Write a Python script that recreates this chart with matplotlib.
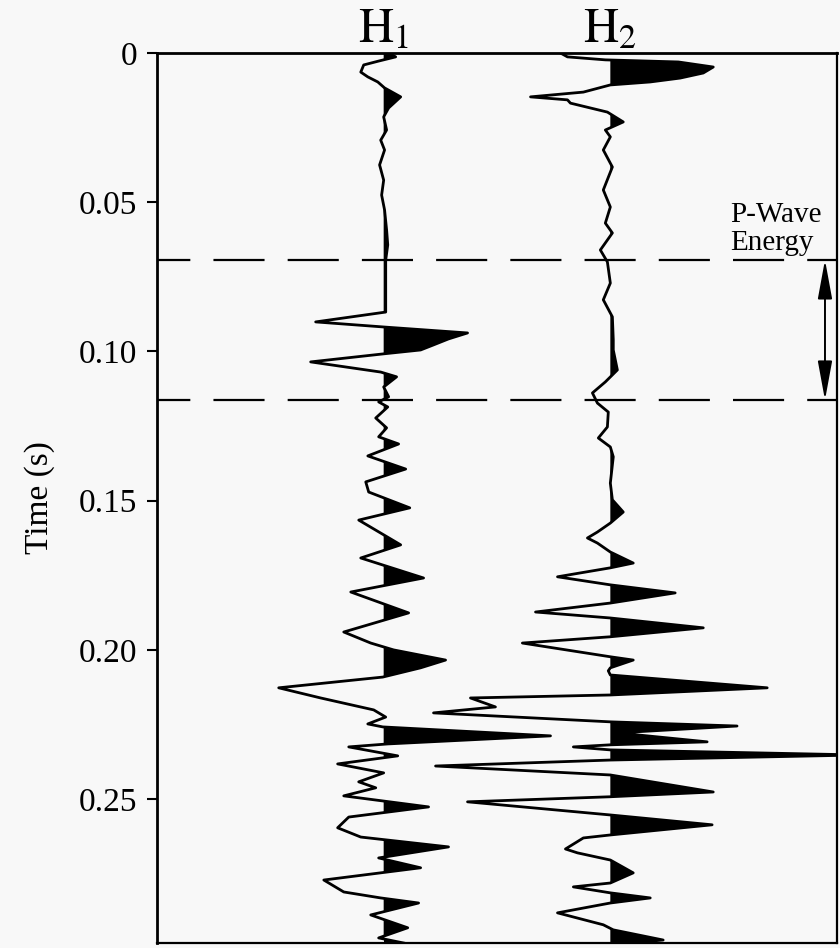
import matplotlib
matplotlib.use("Agg")
from matplotlib import pyplot as plt
import numpy as np

plt.rcParams["font.family"] = ["Liberation Serif", "DejaVu Serif"]
plt.rcParams["mathtext.fontset"] = "stix"

# H1 trace: time (ms) and amplitude (in trace spacings)
h1_time = [0.0, 1.3, 2.7, 4.0, 6.4, 8.0, 9.7, 11.7, 14.7, 18.4, 21.4, 25.8, 29.2, 32.5,
           37.5, 42.6, 47.6, 52.6, 59.3, 64.3, 69.4, 77.7, 86.8, 90.1, 91.8, 93.8, 95.8,
           97.8, 99.5, 100.8, 103.5, 106.9, 108.5, 111.9, 115.2, 116.9, 118.6, 122.3,
           125.6, 128.6, 131.0, 135.0, 139.4, 143.7, 147.1, 152.4, 156.5, 164.8, 169.2,
           175.9, 180.6, 187.6, 194.0, 197.7, 200.0, 203.4, 206.0, 209.1, 212.7, 216.1,
           220.1, 222.5, 224.8, 225.8, 228.8, 231.5, 232.5, 235.5, 238.2, 241.2, 244.2,
           246.2, 248.9, 252.6, 256.0, 259.6, 262.7, 266.0, 269.7, 273.0, 277.1, 281.1,
           283.1, 284.8, 288.8, 293.1, 296.5, 298.2]
h1_amp = [0.022, 0.053, -0.022, -0.088, -0.101, -0.070, -0.026, 0.004, 0.075, 0.022, 0.0,
          0.013, -0.013, 0.004, -0.018, 0.0, -0.009, 0.004, 0.013, 0.018, 0.009, 0.009,
          0.009, -0.300, 0.0, 0.370, 0.286, 0.220, 0.163, 0.0, -0.322, -0.013, 0.057, 0.0,
          0.022, -0.022, 0.018, -0.035, 0.013, -0.022, 0.066, -0.070, 0.097, -0.079,
          -0.066, 0.115, -0.110, 0.075, -0.101, 0.176, -0.145, 0.110, -0.176, -0.057,
          0.044, 0.273, 0.163, -0.004, -0.463, -0.278, -0.044, 0.009, -0.070, -0.004,
          0.736, 0.018, -0.154, 0.062, -0.203, 0.0, -0.110, -0.035, -0.176, 0.198, -0.154,
          -0.203, -0.101, 0.286, -0.022, 0.163, -0.264, -0.176, -0.013, 0.154, -0.057,
          0.106, -0.022, 0.088]

# H2 trace
h2_time = [0.0, 1.3, 2.3, 3.0, 4.7, 6.7, 8.4, 9.7, 10.7, 13.1, 14.7, 15.7, 16.8, 19.8,
           23.1, 25.8, 28.1, 32.5, 38.2, 45.9, 51.6, 57.0, 60.3, 66.0, 70.0, 77.1, 82.7,
           88.4, 96.1, 99.5, 106.2, 110.2, 113.9, 117.3, 120.3, 125.3, 129.0, 132.0,
           135.3, 144.1, 149.7, 153.8, 157.5, 160.5, 162.5, 164.2, 167.2, 170.9, 172.5,
           175.5, 178.2, 180.9, 184.3, 187.3, 189.3, 192.6, 195.6, 197.7, 202.3, 203.4,
           206.0, 207.0, 208.4, 212.7, 215.1, 216.1, 219.1, 221.1, 224.1, 225.5, 227.8,
           230.8, 231.8, 232.5, 233.5, 235.2, 236.9, 238.9, 241.9, 247.6, 249.2, 250.9,
           255.3, 258.6, 262.0, 263.0, 266.7, 268.0, 270.4, 274.7, 278.1, 279.4, 281.4,
           283.1, 284.8, 288.1, 292.1, 293.8, 297.2, 298.8]
h2_amp = [-0.220, -0.189, -0.022, 0.300, 0.454, 0.410, 0.308, 0.176, 0.0, -0.119, -0.352,
          -0.189, -0.176, -0.013, 0.057, -0.022, 0.0, -0.031, 0.009, -0.031, 0.0, -0.022,
          0.009, -0.044, -0.013, 0.0, -0.031, 0.009, 0.013, 0.013, 0.031, -0.022, -0.079,
          -0.057, -0.009, -0.013, -0.053, 0.0, 0.013, 0.0, 0.009, 0.057, 0.0, -0.057,
          -0.101, -0.057, 0.0, 0.101, 0.0, -0.233, 0.0, 0.286, 0.0, -0.330, 0.0, 0.410,
          0.0, -0.388, 0.0, 0.101, 0.0, -0.009, 0.0, 0.692, 0.0, -0.617, -0.507, -0.780,
          0.0, 0.559, 0.031, 0.427, 0.0, -0.163, 0.0, 1.100, 0.0, -0.771, 0.0, 0.454, 0.0,
          -0.630, 0.0, 0.449, 0.0, -0.119, -0.198, -0.145, 0.0, 0.101, 0.0, -0.163, 0.0,
          0.176, 0.0, -0.233, -0.031, 0.013, 0.233, 0.0]

trace_names = [r"$\mathrm{H}_1$", r"$\mathrm{H}_2$"]
p_wave_window = [0.0693, 0.1163]   # s
yticks = [0, 0.05, 0.10, 0.15, 0.20, 0.25]
ytick_labels = ["0", "0.05", "0.10", "0.15", "0.20", "0.25"]

bg = "#f8f8f8"
fig = plt.figure(figsize=(8.4, 9.48), dpi=100, facecolor=bg)
ax = fig.add_axes([157 / 840, 5 / 948, 680 / 840, 890 / 948])
ax.set_facecolor(bg)

traces = [(h1_time, h1_amp), (h2_time, h2_amp)]
for k, (t, a) in enumerate(traces):
    base = k + 1
    t = np.array(t) / 1000.0
    a = np.array(a)
    ax.fill_betweenx(t, base, base + a, where=a >= 0, interpolate=True,
                     color="black", lw=0)
    ax.plot(base + a, t, color="black", lw=2.0, solid_joinstyle="round")
    ax.text(base, 1.012, trace_names[k], transform=ax.get_xaxis_transform(),
            ha="center", va="baseline", fontsize=35)

for t in p_wave_window:
    ax.axhline(t, color="black", lw=1.6, linestyle=(8, (23, 10.4)))

ax.annotate("", xy=(2.947, p_wave_window[0]), xytext=(2.947, p_wave_window[1]),
            arrowprops=dict(arrowstyle="<|-|>,head_length=1.2,head_width=0.22",
                            color="black", lw=1.4, mutation_scale=20,
                            shrinkA=0, shrinkB=0))
ax.text(2.528, 0.0566, "P-Wave", fontsize=21, ha="left", va="baseline")
ax.text(2.528, 0.0660, "Energy", fontsize=21, ha="left", va="baseline")

ax.set_xlim(0, 3)
ax.set_ylim(0.2982, 0)
ax.set_xticks([])
ax.set_yticks(yticks)
ax.set_yticklabels(ytick_labels)
ax.tick_params(axis="y", direction="out", length=7, width=1.5, pad=7, labelsize=24)
ax.set_ylabel("Time (s)", fontsize=24, labelpad=17)
for side in ["left", "top"]:
    ax.spines[side].set_linewidth(2.0)
for side in ["right", "bottom"]:
    ax.spines[side].set_linewidth(1.6)

plt.savefig("out.png", dpi=100, facecolor=bg)
